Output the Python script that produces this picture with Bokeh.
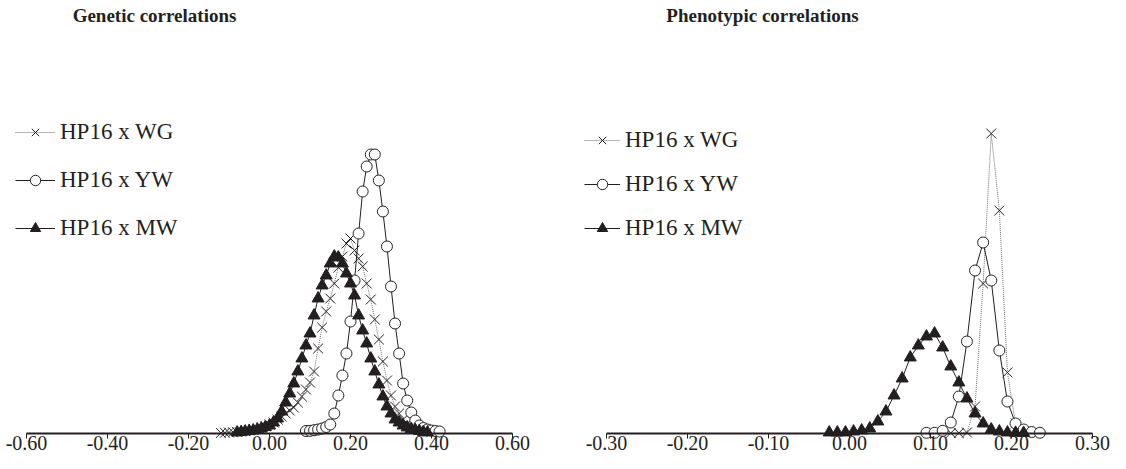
from bokeh.plotting import figure
from bokeh.models import (ColumnDataSource, Range1d, FixedTicker, NumeralTickFormatter,
                          Legend, LegendItem, Label)
from bokeh.layouts import row
from bokeh.embed import file_html
from bokeh.resources import INLINE

# ---------------- data (relative frequency) ----------------
gen_ticks = [-0.60, -0.40, -0.20, 0.00, 0.20, 0.40, 0.60]
phe_ticks = [-0.30, -0.20, -0.10, 0.00, 0.10, 0.20, 0.30]
series_names = ["HP16 x WG", "HP16 x YW", "HP16 x MW"]
titles = ["Genetic correlations", "Phenotypic correlations"]

gen_wg_x = [-0.12, -0.11, -0.10, -0.09, -0.08, -0.07, -0.06, -0.05, -0.04, -0.03, -0.02, -0.01,
            0.00, 0.01, 0.02, 0.03, 0.04, 0.05, 0.06, 0.07, 0.08, 0.09, 0.10, 0.11, 0.12, 0.13,
            0.14, 0.15, 0.16, 0.17, 0.18, 0.19, 0.20, 0.21, 0.22, 0.23, 0.24, 0.25, 0.26, 0.27,
            0.28, 0.29, 0.30, 0.31, 0.32, 0.33, 0.34, 0.35, 0.36, 0.37, 0.38, 0.39, 0.40]
gen_wg_y = [0.5, 0.7, 1, 1.3, 1.6, 2, 2.5, 3, 3.7, 4.5, 5.5, 7,
            9, 11, 14, 17, 20, 23, 26, 31, 37, 44, 51, 62, 85, 106,
            122, 135, 150, 166, 177, 190, 195, 183, 175, 167, 150, 134, 114, 94,
            72, 53, 38, 27, 20, 14, 10, 8, 6, 4.5, 3.5, 2.5, 1.5]

gen_yw_x = [0.09, 0.10, 0.11, 0.12, 0.13, 0.14, 0.15, 0.16, 0.17, 0.18, 0.19, 0.20, 0.21,
            0.22, 0.23, 0.24, 0.25, 0.26, 0.27, 0.28, 0.29, 0.30, 0.31, 0.32, 0.33, 0.34,
            0.35, 0.36, 0.37, 0.38, 0.39, 0.40, 0.41, 0.42]
gen_yw_y = [2.5, 2.7, 3.3, 4, 5, 6.5, 9, 20, 38, 58, 80, 112, 153,
            200, 242, 267, 279, 279, 253, 222, 187, 147, 110, 80, 50, 33,
            21, 13, 8, 5.5, 4, 3, 2.5, 2]

gen_mw_x = [-0.08, -0.07, -0.06, -0.05, -0.04, -0.03, -0.02, -0.01, 0.00, 0.01, 0.02, 0.03,
            0.04, 0.05, 0.06, 0.07, 0.08, 0.09, 0.10, 0.11, 0.12, 0.13, 0.14, 0.15, 0.16,
            0.17, 0.18, 0.19, 0.20, 0.21, 0.22, 0.23, 0.24, 0.25, 0.26, 0.27, 0.28, 0.29,
            0.30, 0.31, 0.32, 0.33, 0.34, 0.35, 0.36, 0.37, 0.38, 0.39]
gen_mw_y = [1, 1.5, 2, 2.5, 3, 4, 5, 6.5, 8, 11, 15, 22,
            31, 40, 50, 62, 75, 88, 100, 118, 135, 148, 158, 170, 177,
            176, 170, 160, 150, 138, 118, 103, 90, 75, 62, 49, 37, 27,
            20, 14, 11, 8, 6, 4.5, 3.5, 2.5, 1.5, 1]

phe_wg_x = [0.125, 0.135, 0.145, 0.155, 0.165, 0.175, 0.185, 0.195, 0.205, 0.215]
phe_wg_y = [0.5, 0.5, 1, 27, 150, 300, 223, 61, 10, 2]

phe_yw_x = [0.095, 0.105, 0.115, 0.125, 0.135, 0.145, 0.155, 0.165, 0.175, 0.185, 0.195,
            0.205, 0.215, 0.225, 0.235]
phe_yw_y = [0.7, 0.7, 2.7, 11, 37, 92, 163, 191, 153, 83, 32, 10, 4, 1.5, 0.7]

phe_mw_x = [-0.025, -0.015, -0.005, 0.005, 0.015, 0.025, 0.035, 0.045, 0.055, 0.065, 0.075,
            0.085, 0.095, 0.105, 0.115, 0.125, 0.135, 0.145, 0.155, 0.165, 0.175, 0.185,
            0.195, 0.205, 0.215]
phe_mw_y = [1, 1, 1, 2, 3, 5, 12, 22, 38, 55, 76, 88, 97, 100, 86, 67, 51, 35, 20, 10, 4, 2,
            1, 0.7, 0.5]

# ---------------- layout (page pixels) ----------------
SERIF = "Liberation Serif"
INK = "#231f20"
FIG_H = 453          # page y 8 .. 461
BASE_Y = 441         # page y of the zero line
Y0 = -(8 + FIG_H - BASE_Y)
Y1 = BASE_Y - 8


def make_panel(xs, ys, ticks, title, fig_x0, width, ax_l, ax_r, title_cx,
               legend_x, legend_bottom, legend_glyph_w, legend_spacing, legend_font, legend_h):
    scale = (ax_r - ax_l) / (ticks[-1] - ticks[0])
    x0 = ticks[0] - (ax_l - fig_x0) / scale
    x1 = x0 + width / scale

    p = figure(width=width, height=FIG_H, output_backend="svg", toolbar_location=None,
               x_range=Range1d(x0, x1), y_range=Range1d(Y0, Y1),
               y_axis_location=None, min_border_left=0, min_border_right=0,
               min_border_top=0, min_border_bottom=0)
    p.grid.visible = False
    p.outline_line_color = None
    p.background_fill_color = "white"
    p.border_fill_color = "white"

    ax = p.xaxis[0]
    ax.fixed_location = 0
    ax.bounds = (ticks[0], ticks[-1])
    ax.ticker = FixedTicker(ticks=ticks)
    ax.formatter = NumeralTickFormatter(format="0.00")
    ax.axis_line_color = INK
    ax.axis_line_width = 2
    ax.major_tick_in = 0
    ax.major_tick_out = 5
    ax.major_tick_line_color = INK
    ax.major_tick_line_width = 1
    ax.minor_tick_line_color = None
    ax.major_label_standoff = -3
    ax.major_label_text_font = SERIF
    ax.major_label_text_font_size = "20px"
    ax.major_label_text_color = INK

    renderers = []
    styles = [
        dict(marker="x", line_dash="1 1", lcol="#6d6d6d", size=14, fill="white"),
        dict(marker="circle", line_dash="solid", lcol=INK, size=11, fill="white"),
        dict(marker="triangle", line_dash="solid", lcol=INK, size=12, fill=INK),
    ]
    for (x, y), st in zip(zip(xs, ys), styles):
        src = ColumnDataSource(dict(x=x, y=y))
        lr = p.line("x", "y", source=src, line_color=st["lcol"], line_width=1,
                    line_dash=st["line_dash"])
        sr = p.scatter("x", "y", source=src, marker=st["marker"], size=st["size"],
                       line_color=INK, fill_color=st["fill"], line_width=1)
        renderers.append((lr, sr))

    items = [LegendItem(label=n, renderers=list(r)) for n, r in zip(series_names, renderers)]
    leg = Legend(items=items, location=(legend_x - fig_x0, 8 + FIG_H - legend_bottom),
                 border_line_color=None, background_fill_alpha=0, padding=0, margin=0,
                 glyph_width=legend_glyph_w, glyph_height=legend_h, label_height=legend_h,
                 label_standoff=5, spacing=legend_spacing,
                 label_text_font=SERIF, label_text_font_size=legend_font,
                 label_text_color=INK)
    p.add_layout(leg)

    p.add_layout(Label(x=x0 + (title_cx - fig_x0) / scale, y=BASE_Y - 23, text=title,
                       text_align="center", text_baseline="middle", text_font=SERIF,
                       text_font_style="bold", text_font_size="19px", text_color=INK))
    return p


left = make_panel([gen_wg_x, gen_yw_x, gen_mw_x], [gen_wg_y, gen_yw_y, gen_mw_y],
                  gen_ticks, titles[0], 8, 582, 34, 520, 162,
                  23, 249, 40, 22, "23px", 26)
right = make_panel([phe_wg_x, phe_yw_x, phe_mw_x], [phe_wg_y, phe_yw_y, phe_mw_y],
                   phe_ticks, titles[1], 590, 528, 614, 1100, 770,
                   592, 249, 36, 18, "23px", 26)

layout = row(left, right)
open("out.html", "w").write(file_html(layout, INLINE))
